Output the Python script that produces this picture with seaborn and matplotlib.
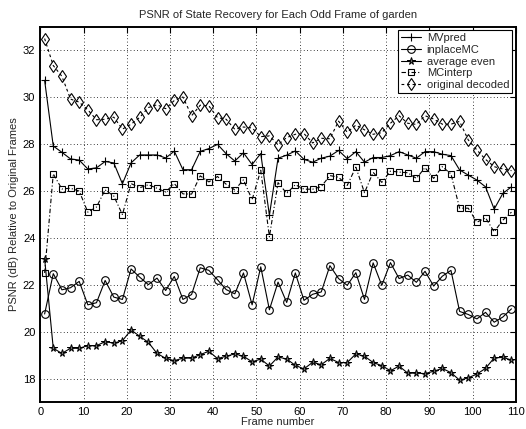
"""
PSNR of state recovery for each odd frame of the garden sequence.
"""

import numpy as np
import matplotlib
matplotlib.use("Agg")
import matplotlib.pyplot as plt
import seaborn as sns

# Odd frame numbers on the x axis
frames = np.arange(1, 110, 2)

mvpred = [
    30.71, 27.91, 27.64, 27.36, 27.31, 26.93, 26.98, 27.25, 27.19, 26.30,
    27.19, 27.53, 27.53, 27.53, 27.40, 27.69, 26.90, 26.90, 27.68, 27.80,
    27.98, 27.58, 27.27, 27.62, 27.12, 27.59, 24.96, 27.39, 27.52, 27.70,
    27.34, 27.22, 27.39, 27.48, 27.72, 27.37, 27.67, 27.22, 27.42, 27.42,
    27.50, 27.67, 27.53, 27.39, 27.67, 27.67, 27.56, 27.50, 26.89, 26.67,
    26.46, 26.17, 25.22, 25.89, 26.17,
]

inplace_mc = [
    20.75, 22.47, 21.78, 21.87, 22.14, 21.14, 21.23, 22.18, 21.47, 21.37,
    22.67, 22.32, 22.00, 22.28, 21.75, 22.35, 21.37, 21.58, 22.72, 22.61,
    22.21, 21.79, 21.61, 22.50, 21.14, 22.76, 20.93, 22.11, 21.24, 22.50,
    21.33, 21.59, 21.69, 22.81, 22.26, 21.97, 22.51, 21.37, 22.93, 21.97,
    22.94, 22.26, 22.41, 22.10, 22.57, 21.94, 22.36, 22.61, 20.86, 20.73,
    20.54, 20.82, 20.40, 20.62, 20.97,
]

average_even = [
    23.11, 19.29, 19.07, 19.29, 19.29, 19.40, 19.40, 19.57, 19.51, 19.61,
    20.07, 19.80, 19.54, 19.07, 18.86, 18.76, 18.87, 18.87, 19.02, 19.16,
    18.85, 18.95, 19.05, 18.95, 18.71, 18.83, 18.53, 18.92, 18.83, 18.56,
    18.41, 18.69, 18.59, 18.86, 18.68, 18.68, 19.05, 18.95, 18.68, 18.55,
    18.33, 18.53, 18.23, 18.23, 18.21, 18.31, 18.43, 18.25, 17.93, 18.03,
    18.19, 18.43, 18.88, 18.90, 18.79,
]

mc_interp = [
    22.50, 26.72, 26.08, 26.11, 25.99, 25.09, 25.31, 26.04, 25.78, 24.99,
    26.31, 26.13, 26.26, 26.11, 25.95, 26.31, 25.87, 25.86, 26.64, 26.38,
    26.61, 26.28, 26.04, 26.47, 25.62, 26.88, 24.04, 26.35, 25.89, 26.26,
    26.07, 26.07, 26.18, 26.65, 26.58, 26.23, 27.01, 25.92, 26.79, 26.36,
    26.84, 26.80, 26.77, 26.53, 26.99, 26.53, 27.03, 26.72, 25.26, 25.26,
    24.66, 24.85, 24.25, 24.75, 25.09,
]

original_decoded = [
    32.49, 31.34, 30.88, 29.91, 29.78, 29.45, 29.03, 29.05, 29.14, 28.63,
    28.84, 29.13, 29.55, 29.67, 29.50, 29.85, 30.00, 29.20, 29.65, 29.62,
    29.12, 29.05, 28.62, 28.72, 28.68, 28.31, 28.34, 27.97, 28.27, 28.41,
    28.44, 28.04, 28.24, 28.22, 28.97, 28.50, 28.80, 28.60, 28.41, 28.48,
    28.88, 29.20, 28.88, 28.83, 29.20, 29.06, 28.84, 28.84, 28.96, 28.17,
    27.74, 27.34, 27.03, 26.93, 26.86,
]

xticks = list(range(0, 111, 10))
yticks = list(range(18, 33, 2))

sns.set_style("white")
plt.rcParams["font.family"] = ["Liberation Sans", "DejaVu Sans"]
plt.rcParams["font.size"] = 8

fig = plt.figure(figsize=(5.26, 4.29), dpi=100)
ax = fig.add_axes([0.0766, 0.063, 0.904, 0.875])

series = [
    ("MVpred", mvpred, dict(marker="+", ms=6, mew=0.8, ls="-")),
    ("inplaceMC", inplace_mc, dict(marker="o", ms=5.5, mfc="none", mew=0.8, ls="-")),
    ("average even", average_even, dict(marker="*", ms=5.5, mfc="0.45", mew=0.7, ls="-")),
    ("MCinterp", mc_interp, dict(marker="s", ms=4.5, mfc="none", mew=0.8, ls=(0, (4, 2, 1, 2)))),
    ("original decoded", original_decoded, dict(marker="d", ms=6.5, mfc="none", mew=0.8, ls=(0, (2.5, 2.5)))),
]

for name, values, style in series:
    sns.lineplot(
        x=frames, y=values, ax=ax, color="black", lw=0.8, label=name,
        mec="black", **style,
    )

ax.set_xlim(0, 110)
ax.set_ylim(17, 33)
ax.set_xticks(xticks)
ax.set_yticks(yticks)
ax.grid(True, ls=(0, (1, 3)), color="black", lw=0.6)
ax.tick_params(direction="in", length=4, top=True, right=True, labelsize=8,
               colors="black")
for spine in ax.spines.values():
    spine.set_linewidth(1.4)
    spine.set_color("black")

ax.set_title("PSNR of State Recovery for Each Odd Frame of garden",
             fontsize=8, pad=6)
ax.set_xlabel("Frame number", fontsize=8, labelpad=0)
ax.set_ylabel("PSNR (dB) Relative to Original Frames", fontsize=8, labelpad=3)

leg = ax.legend(loc="upper right", fontsize=8, frameon=True, fancybox=False,
                edgecolor="black", framealpha=1, borderaxespad=0.3,
                handlelength=1.8, handletextpad=0.5, labelspacing=0.15,
                borderpad=0.3)
leg.get_frame().set_linewidth(0.8)

fig.savefig("out.png", dpi=100)
